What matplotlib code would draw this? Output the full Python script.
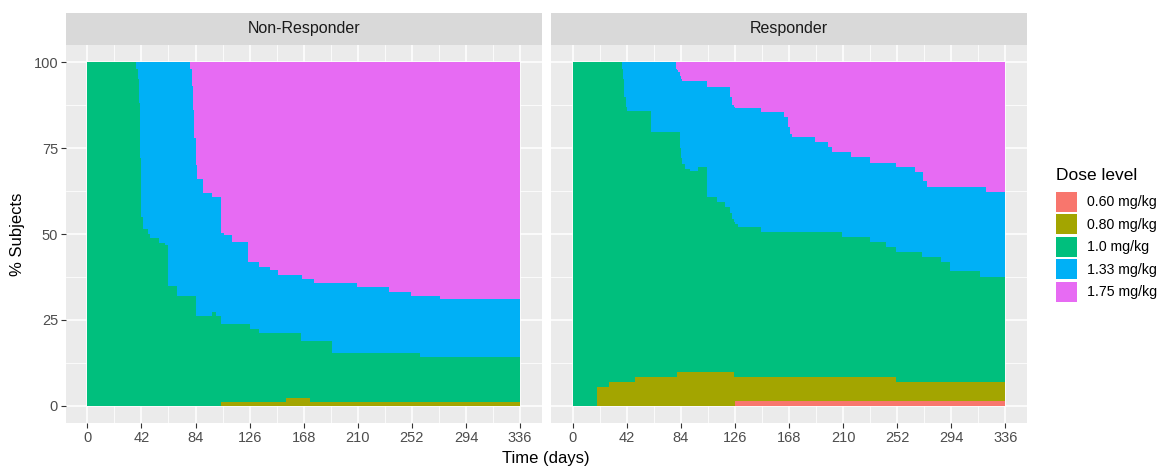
import numpy as np
import matplotlib.pyplot as plt
from matplotlib.patches import Patch
from matplotlib.ticker import MultipleLocator

plt.rcParams['font.family'] = ['Liberation Sans', 'DejaVu Sans']

doses = ['0.60 mg/kg', '0.80 mg/kg', '1.0 mg/kg', '1.33 mg/kg', '1.75 mg/kg']
colors = ['#F8766D', '#A3A500', '#00BF7D', '#00B0F6', '#E76BF3']
panels = ['Non-Responder', 'Responder']

# Non-Responder: % of subjects on each dose, from the given day onward
nr_days = [0, 38, 39, 40, 41, 42, 43, 47, 49, 56, 60, 63, 70, 80, 81, 82, 83, 84, 85,
           90, 97, 100, 104, 106, 112, 125, 126, 133, 142, 148, 154, 166, 167, 173,
           176, 190, 209, 234, 251, 258, 274, 336]
nr_060 = [0] * 42
nr_080 = [0, 0, 0, 0, 0, 0, 0, 0, 0, 0, 0, 0, 0, 0, 0, 0, 0, 0, 0,
          0, 0, 0, 1, 1, 1, 1, 1, 1, 1, 1, 2.3, 2.3, 2.3, 1,
          1, 1, 1, 1, 1, 1, 1, 1]
nr_100 = [100, 98, 95, 88, 72, 55, 51.5, 50, 48.7, 47.5, 46.8, 35, 32, 32, 32, 32, 32, 26, 26,
          26, 27.4, 26, 22.8, 22.8, 22.8, 22.8, 21.5, 20.3, 20.3, 20.3, 19, 16.7, 16.7, 18,
          18, 14.3, 14.3, 14.3, 14.3, 13.2, 13.2, 13.2]
nr_133 = [0, 2, 5, 12, 28, 45, 48.5, 50, 51.3, 52.5, 53.2, 65, 68, 66, 61, 54, 46, 44, 40,
          36, 33.3, 34.7, 26.4, 25.9, 23.8, 18, 19.3, 19.2, 18.2, 16.7, 16.7, 19, 17.8, 17.8,
          16.6, 20.3, 19.2, 17.9, 16.7, 17.8, 16.8, 16.8]
nr_175 = [0, 0, 0, 0, 0, 0, 0, 0, 0, 0, 0, 0, 0, 2, 7, 14, 22, 30, 34,
          38, 39.3, 39.3, 49.8, 50.3, 52.4, 58.2, 58.2, 59.5, 60.5, 62, 62, 62, 63.2, 63.2,
          64.4, 64.4, 65.5, 66.8, 68, 68, 69, 69]

# Responder
r_days = [0, 19, 28, 38, 39, 40, 41, 42, 48, 61, 80, 81, 82, 83, 84, 85, 87, 91, 97,
          104, 112, 118, 122, 124, 125, 126, 128, 146, 164, 167, 169, 170, 188, 198,
          201, 209, 216, 231, 243, 251, 266, 271, 272, 275, 286, 293, 316, 321, 336]
r_060 = [0, 0, 0, 0, 0, 0, 0, 0, 0, 0, 0, 0, 0, 0, 0, 0, 0, 0, 0,
         0, 0, 0, 0, 0, 0, 1.5, 1.5, 1.5, 1.5, 1.5, 1.5, 1.5, 1.5, 1.5,
         1.5, 1.5, 1.5, 1.5, 1.5, 1.5, 1.5, 1.5, 1.5, 1.5, 1.5, 1.5, 1.5, 1.5, 1.5]
r_080 = [0, 5.5, 7, 7, 7, 7, 7, 7, 8.4, 8.4, 8.4, 9.9, 9.9, 9.9, 9.9, 9.9, 9.9, 9.9, 9.9,
         9.9, 9.9, 9.9, 9.9, 9.9, 8.4, 6.9, 6.9, 6.9, 6.9, 6.9, 6.9, 6.9, 6.9, 6.9,
         6.9, 6.9, 6.9, 6.9, 6.9, 5.5, 5.5, 5.5, 5.5, 5.5, 5.5, 5.5, 5.5, 5.5, 5.5]
r_100 = [100, 94.5, 93, 91, 88, 83, 80, 78.7, 77.3, 71.4, 71.4, 69.9, 69.9, 65.1, 62.1, 60.6, 59.1, 58.4, 59.5,
         51, 49.5, 48, 46.1, 44.6, 45.1, 44.6, 43.6, 42.1, 42.1, 42.1, 42.1, 42.1, 42.1, 42.1,
         42.1, 40.6, 40.6, 39.4, 37.9, 37.9, 37.9, 36.3, 36.3, 36.3, 34.9, 32.2, 30.6, 30.6, 30.6]
r_133 = [0, 0, 0, 2, 5, 10, 13, 14.3, 14.3, 20.2, 18.2, 18, 17.2, 21, 23, 23.9, 25.4, 26.1, 25,
         31.8, 33.3, 34.8, 34, 33, 33.5, 33.8, 34.8, 35, 33.5, 30.5, 28.5, 27.7, 26.2, 24.7,
         23.3, 24.8, 23.3, 22.9, 24.4, 24.5, 23, 24.6, 22.2, 20.4, 21.8, 24.5, 26.1, 24.5, 24.5]
r_175 = [0, 0, 0, 0, 0, 0, 0, 0, 0, 0, 2, 2.2, 3, 4, 5, 5.6, 5.6, 5.6, 5.6,
         7.3, 7.3, 7.3, 10, 12.5, 13, 13.2, 13.2, 14.5, 16, 19, 21, 21.8, 23.3, 24.8,
         26.2, 26.2, 27.7, 29.3, 29.3, 30.6, 32.1, 32.1, 34.5, 36.3, 36.3, 36.3, 36.3, 37.9, 37.9]

data = [
    (nr_days, [nr_060, nr_080, nr_100, nr_133, nr_175]),
    (r_days, [r_060, r_080, r_100, r_133, r_175]),
]

W, H = 1160, 468
fig = plt.figure(figsize=(W / 100, H / 100), dpi=100)

lefts = [65.7, 551.1]
pw, top, bot = 476, 45, 423
for i, (days, series) in enumerate(data):
    ax = fig.add_axes([lefts[i] / W, (H - bot) / H, pw / W, (bot - top) / H])
    ax.set_facecolor('#EBEBEB')
    days = np.array(days, dtype=float)
    tops = np.cumsum(np.array(series, dtype=float), axis=0)
    # paint from the top layer down so layers overlap without seams
    for k in range(len(series) - 1, -1, -1):
        ax.fill_between(days, 0, tops[k], step='post', facecolor=colors[k],
                        linewidth=0, zorder=2)
    ax.set_xlim(-16.8, 352.8)
    ax.set_ylim(-5, 105)
    ax.set_xticks(np.arange(0, 337, 42))
    ax.set_yticks([0, 25, 50, 75, 100])
    ax.xaxis.set_minor_locator(MultipleLocator(21))
    ax.yaxis.set_minor_locator(MultipleLocator(12.5))
    ax.grid(which='major', color='white', linewidth=1.1, zorder=0)
    ax.grid(which='minor', color='white', linewidth=0.55, zorder=0)
    ax.set_axisbelow(True)
    for s in ax.spines.values():
        s.set_visible(False)
    ax.tick_params(which='major', length=3.5, width=0.8, color='#333333',
                   labelcolor='#4D4D4D', labelsize=10.5, pad=2)
    ax.tick_params(which='minor', length=0)
    if i == 1:
        ax.tick_params(axis='y', which='both', left=False, labelleft=False)

    sax = fig.add_axes([lefts[i] / W, (H - top) / H, pw / W, 32 / H])
    sax.set_facecolor('#D9D9D9')
    sax.set_xticks([])
    sax.set_yticks([])
    for s in sax.spines.values():
        s.set_visible(False)
    sax.text(0.5, 0.5, panels[i], ha='center', va='center', fontsize=11.5,
             color='#1A1A1A', transform=sax.transAxes)

fig.text(546 / W, 1 - 458 / H, 'Time (days)', ha='center', va='center', fontsize=12)
fig.text(18 / W, 1 - 234 / H, '% Subjects', ha='center', va='center',
         rotation=90, fontsize=12)

fig.text(1055.5 / W, 1 - 175 / H, 'Dose level', ha='left', va='center', fontsize=12.5)
handles = [Patch(facecolor=c, edgecolor='none') for c in colors]
leg = fig.legend(handles, doses, loc='upper left',
                 bbox_to_anchor=(1056 / W, 1 - 191.5 / H), frameon=False,
                 fontsize=10.2, handlelength=1.45, handleheight=1.8,
                 labelspacing=0.18, handletextpad=0.72,
                 borderpad=0, borderaxespad=0)

fig.savefig('out.png', dpi=100)
